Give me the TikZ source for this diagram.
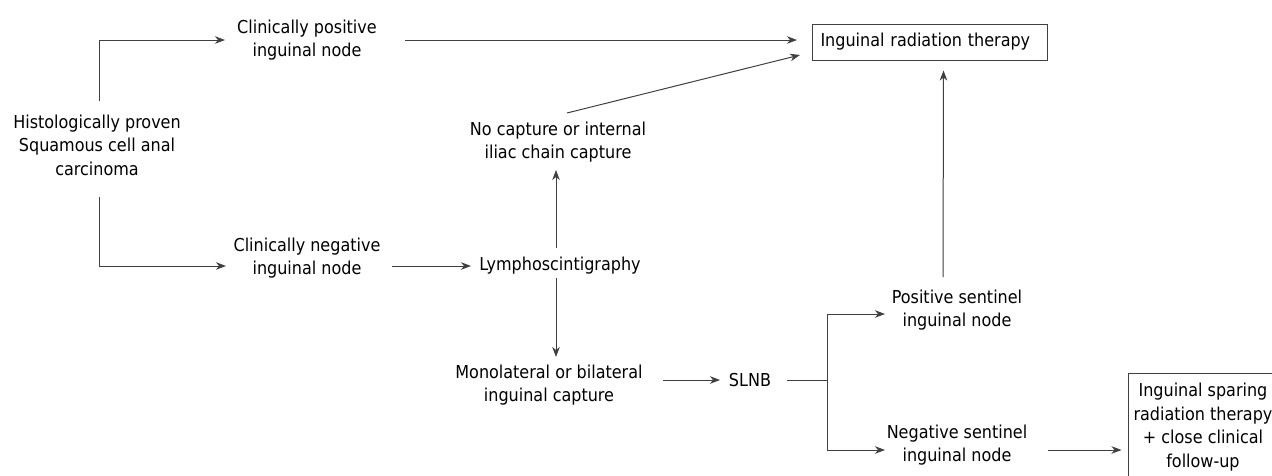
\documentclass[tikz,border=0pt]{standalone}
\usepackage{fontspec}
\setmainfont{DejaVu Sans Condensed}
\usetikzlibrary{arrows.meta,calc}
\begin{document}
\begin{tikzpicture}[x=1pt,y=-1pt,
  every node/.style={font=\fontsize{17.8}{23.5}\selectfont, text=black},
  lbl/.style={align=center, inner sep=2pt},
  box/.style={draw=black!75, line width=1pt, inner sep=0pt},
  ln/.style={draw=black!75, line width=1pt},
  arr/.style={ln, -{Stealth[length=10pt,width=7.5pt,inset=3pt]}}]
\useasboundingbox (0,0) rectangle (1272,475);
\fill[white] (0,0) rectangle (1272,475);
% nodes
\node[lbl] (hist)  at (97,145)  {Histologically proven\\Squamous cell anal\\carcinoma};
\node[lbl] (cpos)  at (307,40)  {Clinically positive\\inguinal node};
\node[lbl] (cneg)  at (307,258) {Clinically negative\\inguinal node};
\node[lbl] (lym)   at (560,266) {Lymphoscintigraphy};
\node[lbl] (nocap) at (558,142) {No capture or internal\\iliac chain capture};
\node[lbl] (mono)  at (549,385) {Monolateral or bilateral\\inguinal capture};
\node[lbl] (slnb)  at (750,380) {SLNB};
\node[box, anchor=west, text width=219pt, align=left, inner xsep=8pt, minimum height=36pt] (irt) at (812,42) {Inguinal radiation therapy};
\node[lbl] (psn)   at (957,310) {Positive sentinel\\inguinal node};
\node[lbl] (nsn)   at (957,445) {Negative sentinel\\inguinal node};
\node[box, align=center, minimum width=150pt, minimum height=108pt] (isrt) at (1203,427) {Inguinal sparing\\radiation therapy\\+ close clinical\\follow-up};
% connectors
\draw[arr] ($(hist)+(2,-44)$) |- ($(cpos)+(-82,0)$);
\draw[arr] ($(hist)+(2,52)$) |- ($(cneg)+(-81,8)$);
\draw[arr] ($(cpos)+(98,0)$) -- ($(irt.west)+(-15,-2)$);
\draw[arr] ($(nocap)+(9,-29)$) -- ($(irt.west)+(-12,13)$);
\draw[arr] ($(cneg)+(85,8)$) -- ($(lym)+(-89,0)$);
\draw[arr] ($(lym)+(-4,-18)$) -- ($(nocap)+(-2,28)$);
\draw[arr] ($(lym)+(-4,12)$) -- ($(mono)+(7,-28)$);
\draw[arr] ($(mono)+(114,-5)$) -- ($(slnb)+(-30,0)$);
\coordinate (br) at (827,380);
\draw[ln] ($(slnb)+(37,0)$) -- (br);
\draw[arr] (br) |- ($(psn)+(-72,4)$);
\draw[arr] (br) |- ($(nsn)+(-72,5)$);
\draw[arr] ($(psn)+(-14,-33)$) -- ($(irt.south)+(13.5,10)$);
\draw[arr] ($(nsn)+(91,5)$) -- ($(isrt.west)+(-6,23)$);
\end{tikzpicture}
\end{document}
